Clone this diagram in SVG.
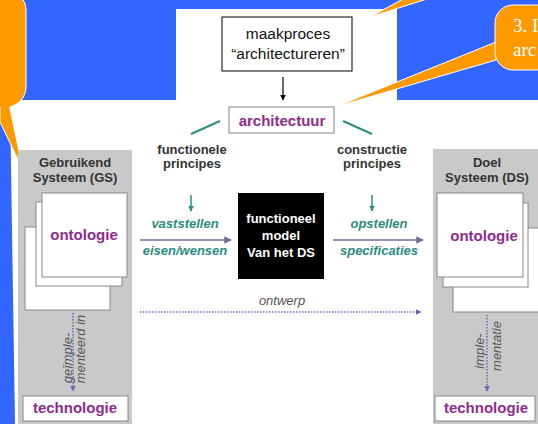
<svg xmlns="http://www.w3.org/2000/svg" width="538" height="424" viewBox="0 0 538 424">
<defs>
<style>
.sans{font-family:"Liberation Sans",Arial,sans-serif}
.lbl{font-family:"Liberation Sans",Arial,sans-serif;font-weight:bold;font-size:13px;fill:#333;text-anchor:middle}
.pur{font-family:"Liberation Sans",Arial,sans-serif;font-weight:bold;font-size:15px;fill:#8E2C8E;text-anchor:middle}
.teal{font-family:"Liberation Sans",Arial,sans-serif;font-weight:bold;font-style:italic;font-size:13px;fill:#2E8C80;text-anchor:middle}
.rot{font-family:"Liberation Sans",Arial,sans-serif;font-style:italic;font-size:13px;fill:#555;text-anchor:middle}
.page{fill:#fff;stroke:#888;stroke-width:1}
.panel{fill:#C9C9C9}
.orange{fill:#FF9900;stroke:#fff;stroke-width:1}
.arr{stroke:#76699E;stroke-width:1.5;fill:none}
.dot{stroke:#6A6AB0;stroke-width:1.5;stroke-dasharray:1.5 1.5;fill:none}
.tl{stroke:#2E8C80;stroke-width:2;fill:none}
</style>
<marker id="ah" viewBox="0 0 10 10" refX="9" refY="5" markerWidth="5" markerHeight="5" orient="auto"><path d="M0,0 L10,5 L0,10 z" fill="#76699E"/></marker>
<marker id="ahd" viewBox="0 0 10 10" refX="9" refY="5" markerWidth="4" markerHeight="4" orient="auto"><path d="M0,0 L10,5 L0,10 z" fill="#6A6AB0"/></marker>
<marker id="aht" viewBox="0 0 10 10" refX="9" refY="5" markerWidth="4" markerHeight="4" orient="auto"><path d="M0,0 L10,5 L0,10 z" fill="#2E8C80"/></marker>
<marker id="ahk" viewBox="0 0 10 10" refX="9" refY="5" markerWidth="5" markerHeight="5" orient="auto"><path d="M0,0 L10,5 L0,10 z" fill="#000"/></marker>
</defs>
<rect width="538" height="424" fill="#fff"/>
<!-- blue background -->
<path d="M0,0 H538 V100 H397 V9 H176 V100 H0 Z" fill="#3366FF"/>
<polygon points="0,100 10,100 15,424 0,424" fill="#3366FF"/>
<!-- orange callouts -->
<g id="callout-left">
<rect x="-30" y="-10" width="56" height="117" rx="20" class="orange"/>
<polygon points="0,104 9,104 23,170 0,122" class="orange"/>
<rect x="-2" y="95" width="12" height="12" fill="#FF9900"/>
</g>
<g id="callout-right">
<polygon points="496,42 496,60 335,107" class="orange"/>
<rect x="495" y="5" width="60" height="65" rx="18" class="orange"/>
<text x="513" y="32" font-family="'Liberation Serif','Times New Roman',serif" font-size="19" fill="#fff">3. I</text>
<text x="513" y="56" font-family="'Liberation Serif','Times New Roman',serif" font-size="19" fill="#fff">arc</text>
</g>
<g id="callout-top">
<polygon points="403,-1 427,-1 370,17" class="orange"/>
</g>
<!-- maakproces -->
<g id="maakproces">
<rect x="222" y="17" width="130" height="54" fill="#fff" stroke="#000" stroke-width="1"/>
<text x="288" y="39" class="sans" font-size="15.5" text-anchor="middle" fill="#111">maakproces</text>
<text x="288" y="59" class="sans" font-size="15.5" text-anchor="middle" fill="#111">“architectureren”</text>
</g>
<!-- GS panel -->
<g id="gs">
<rect x="18" y="150" width="114" height="274" class="panel"/>
<text x="75" y="167" class="lbl" font-size="14">Gebruikend</text>
<text x="75" y="182" class="lbl" font-size="14">Systeem (GS)</text>
<rect x="25" y="227" width="85" height="83" class="page"/>
<rect x="36" y="202" width="86" height="84" class="page"/>
<rect x="42" y="193" width="85" height="84" class="page"/>
<text x="84" y="240" class="pur">ontologie</text>
<text class="rot" transform="translate(67,358) rotate(-90)" dy="4.5">geïmple-</text>
<text class="rot" transform="translate(80,349) rotate(-90)" dy="4.5">menteerd in</text>
</g>
<g id="gs-tech">
<rect x="23" y="396" width="105" height="25" fill="#fff" stroke="#888" stroke-width="1"/>
<text x="75" y="413" class="pur">technologie</text>
</g>
<!-- DS panel -->
<g id="ds">
<rect x="433" y="149" width="110" height="275" class="panel"/>
<text x="487" y="167" class="lbl" font-size="14">Doel</text>
<text x="487" y="182" class="lbl" font-size="14">Systeem (DS)</text>
<rect x="453" y="228" width="95" height="84" class="page"/>
<rect x="443" y="203" width="85" height="84" class="page"/>
<rect x="437" y="193" width="86" height="84" class="page"/>
<text x="484" y="241" class="pur">ontologie</text>
<text class="rot" transform="translate(479,351) rotate(-90)" dy="4.5">imple-</text>
<text class="rot" transform="translate(496,346) rotate(-90)" dy="4.5">mentatie</text>
</g>
<g id="ds-tech">
<rect x="435" y="396" width="100" height="25" fill="#fff" stroke="#888" stroke-width="1"/>
<text x="486" y="413" class="pur">technologie</text>
</g>
<!-- architectuur -->
<g id="architectuur">
<rect x="229" y="107" width="105" height="26" fill="#fff" stroke="#999" stroke-width="1.2"/>
<text x="282" y="126" class="pur">architectuur</text>
</g>
<g id="functionele">
<text x="192" y="154" class="lbl">functionele</text>
<text x="192" y="168" class="lbl">principes</text>
</g>
<g id="constructie">
<text x="372" y="154" class="lbl">constructie</text>
<text x="372" y="168" class="lbl">principes</text>
</g>
<g id="model">
<rect x="238" y="193" width="86" height="86" fill="#000"/>
<text x="281" y="223" class="lbl" style="fill:#fff">functioneel</text>
<text x="281" y="240" class="lbl" style="fill:#fff">model</text>
<text x="281" y="257" class="lbl" style="fill:#fff">Van het DS</text>
</g>
<!-- connectors -->
<g id="connectors">
<line x1="283" y1="77" x2="283" y2="100" stroke="#000" stroke-width="1.2" marker-end="url(#ahk)"/>
<line x1="220" y1="121" x2="191" y2="134" class="tl"/>
<line x1="343" y1="121" x2="372" y2="134" class="tl"/>
<line x1="191" y1="195" x2="191" y2="211" stroke="#2E8C80" stroke-width="1.5" marker-end="url(#aht)"/>
<line x1="372" y1="195" x2="372" y2="211" stroke="#2E8C80" stroke-width="1.5" marker-end="url(#aht)"/>
<line x1="140" y1="240" x2="231" y2="240" class="arr" marker-end="url(#ah)"/>
<line x1="333" y1="240" x2="423" y2="240" class="arr" marker-end="url(#ah)"/>
<line x1="140" y1="312" x2="421" y2="312" class="dot" marker-end="url(#ahd)"/>
<line x1="73" y1="313" x2="73" y2="391" class="dot" marker-end="url(#ahd)"/>
<line x1="487" y1="315" x2="487" y2="391" class="dot" marker-end="url(#ahd)"/>
</g>
<g id="edge-labels">
<text x="185" y="228" class="teal">vaststellen</text>
<text x="185" y="255" class="teal">eisen/wensen</text>
<text x="379" y="228" class="teal">opstellen</text>
<text x="379" y="255" class="teal">specificaties</text>
<text x="282" y="305" class="sans" font-size="13" font-style="italic" fill="#555" text-anchor="middle">ontwerp</text>
</g>
</svg>
